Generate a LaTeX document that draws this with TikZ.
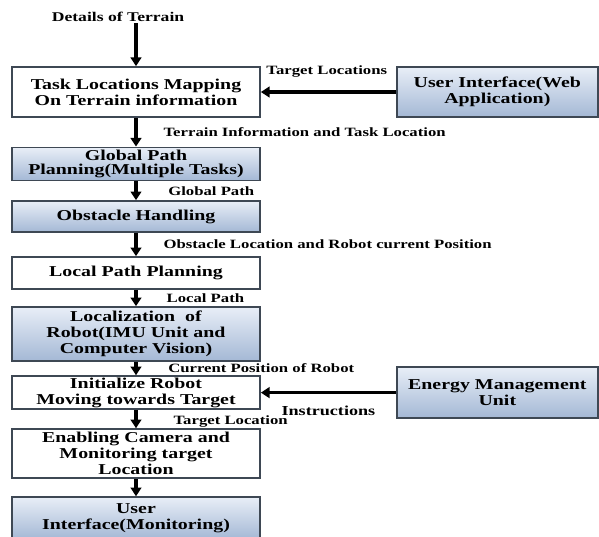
\documentclass[tikz,border=0pt]{standalone}
\usepackage{fontspec}
\setmainfont{Liberation Serif}[FakeStretch=1.32]
\usepackage{tikz}
\usetikzlibrary{arrows.meta,positioning}

\definecolor{boxline}{RGB}{62,72,84}
\definecolor{topblue}{RGB}{232,238,247}
\definecolor{botblue}{RGB}{164,184,213}

\begin{document}
\begin{tikzpicture}[
		>={Triangle[length=6.5pt,width=8pt]},
		box/.style={draw=boxline, line width=1.3pt, rectangle, text width=180pt, align=center, inner xsep=3pt, inner ysep=1pt, font=\fontsize{11.3}{12}\selectfont\bfseries},
		sidebox/.style={box, text width=144.75pt},
		bluebox/.style={top color=topblue, bottom color=botblue},
		lbl/.style={font=\fontsize{9.5}{11}\selectfont\bfseries, inner sep=1pt},
		flow/.style={->, line width=2.4pt}
	]
	\useasboundingbox (0,0) rectangle (449.25pt,-402pt);
	
	\node (box1) [box, minimum height=37.5pt] at (102pt,-69pt) {Task Locations Mapping\\On Terrain information};
	\node (box2) [box, bluebox, inner ysep=2pt, font=\fontsize{11.3}{10.5}\selectfont\bfseries, below of=box1, node distance=54pt] {Global Path\\Planning(Multiple Tasks)};
	\node (box3) [box, bluebox, minimum height=23.25pt, below of=box2, node distance=39.4pt] {Obstacle Handling};
	\node (box4) [box, minimum height=24pt, below of=box3, node distance=42.4pt] {Local Path Planning};
	\node (box5) [box, bluebox, minimum height=40.5pt, below of=box4, node distance=45.75pt] {Localization~ of\\Robot(IMU Unit and\\Computer Vision)};
	\node (box6) [box, minimum height=24.75pt, below of=box5, node distance=43.9pt] {Initialize Robot\\Moving towards Target};
	\node (box7) [box, minimum height=36.75pt, below of=box6, node distance=45.75pt] {Enabling Camera and\\Monitoring target\\Location};
	\node (box8) [box, bluebox, minimum height=31.5pt, below of=box7, node distance=48.4pt] {User\\Interface(Monitoring)};
	
	\node (box9) [sidebox, bluebox, minimum height=37.5pt, right of=box1, node distance=271pt] {User Interface(Web\\Application)};
	\node (box10) [sidebox, bluebox, minimum height=38.25pt, right of=box6, node distance=271pt] {Energy Management\\Unit};
	
	\node (terrain) [lbl, font=\fontsize{10}{12}\selectfont\bfseries, above of=box1, node distance=56.25pt, xshift=-13.5pt] {Details of Terrain};
	
	% Arrows
	\draw[flow] (terrain.south -| box1.north) -- (box1.north);
	\draw[flow] (box1) -- node[lbl, right=18.5pt] (lbl1) {Terrain Information and Task Location} (box2);
	\draw[flow] (box2) -- node[lbl, right=22pt] (lbl2) {Global Path} (box3);
	\draw[flow] (box3) -- node[lbl, right=18.5pt] (lbl3) {Obstacle Location and Robot current Position} (box4);
	\draw[flow] (box4) -- node[lbl, right=20.75pt] (lbl4) {Local Path} (box5);
	\draw[flow] (box5) -- node[lbl, right=22pt] (lbl5) {Current Position of Robot} (box6);
	\draw[flow] (box6) -- node[lbl, right=26pt, yshift=-2pt] (lbl6) {Target Location} (box7);
	\draw[flow] (box7) -- (box8);
	
	\draw[flow] (box9) -- node[lbl, pos=1, anchor=south west, xshift=2pt, yshift=9pt] (lbl0) {Target Locations} (box1);
	\draw[flow] (box10) -- node[lbl, font=\fontsize{10.3}{12}\selectfont\bfseries, below, yshift=-7.5pt] (lbl7) {Instructions} (box6);
	
\end{tikzpicture}
\end{document}
